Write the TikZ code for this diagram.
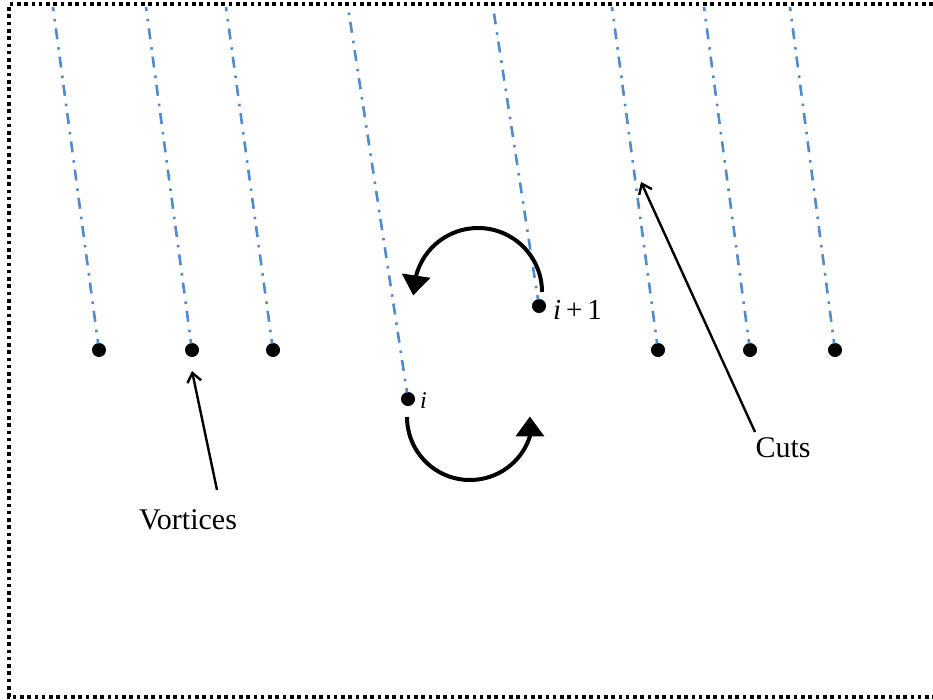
\documentclass[tikz,border=0pt]{standalone}
\usepackage{fontspec}
\setmainfont{Liberation Serif}
\usetikzlibrary{arrows.meta}
\definecolor{cutblue}{RGB}{80,140,205}
\tikzset{
  vortex/.style={circle,fill=black,inner sep=0pt,minimum size=14pt},
  cutline/.style={draw=cutblue,line width=2.6pt,dash pattern=on 11pt off 7pt on 2.5pt off 8pt},
  turn/.style={line width=4pt,-{Triangle[length=20pt,width=28pt]}},
  pointer/.style={line width=2.4pt,-{Straight Barb[length=9pt,width=14pt,line width=2.4pt]}},
  lbl/.style={font=\fontsize{30}{36}\selectfont,inner sep=0pt},
  border/.style={line width=4pt,dash pattern=on 3.6pt off 3.7pt}
}
\begin{document}
\begin{tikzpicture}[x=1pt,y=-1pt]
\useasboundingbox (0,0) rectangle (933,700);
\draw[border] (933,4.5) -- (8.5,4.5) -- (8.5,696.5) -- (933,696.5);
% vortices
\node[vortex] (v1) at (99,350) {};
\node[vortex] (v2) at (192,350) {};
\node[vortex] (v3) at (273,350) {};
\node[vortex] (v4) at (408,399) {};
\node[vortex] (v5) at (539,306) {};
\node[vortex] (v6) at (658,350) {};
\node[vortex] (v7) at (750,350) {};
\node[vortex] (v8) at (835,350) {};
% cut ends
\coordinate (c1) at (53,7);
\coordinate (c2) at (146,7);
\coordinate (c3) at (226,7);
\coordinate (c4) at (348,7);
\coordinate (c5) at (493,7);
\coordinate (c6) at (612,7);
\coordinate (c7) at (704,7);
\coordinate (c8) at (790,7);
\foreach \k in {1,...,8} { \draw[cutline] (v\k.center) -- (c\k); }
% redraw dots on top
\foreach \p in {(99,350),(192,350),(273,350),(408,399),(539,306),(658,350),(750,350),(835,350)} { \fill \p circle[radius=6.5pt]; }
% labels
\node[anchor=west,inner sep=0pt,font=\fontsize{24}{28}\selectfont] (li) at (420,401) {\textit{i}};
\node[anchor=west,inner sep=0pt,font=\fontsize{29}{34}\selectfont] (li1) at (553,310) {\textit{i}\,+\,1};
% exchange arrows
\draw[turn] (542,292) arc[start angle=0,end angle=-165,radius=64] -- ++(-3,20);
\draw[turn] (407,417) arc[start angle=180,end angle=18,radius=63] -- ++(0,-20);
% pointers
\node[lbl] (vort) at (188,520) {Vortices};
\node[lbl] (cuts) at (783,448) {Cuts};
\coordinate (pv) at (192,371);
\coordinate (pc) at (641,182);
\draw[pointer] (217,490) -- (pv);
\draw[pointer] (755,432) -- (pc);
\end{tikzpicture}
\end{document}
